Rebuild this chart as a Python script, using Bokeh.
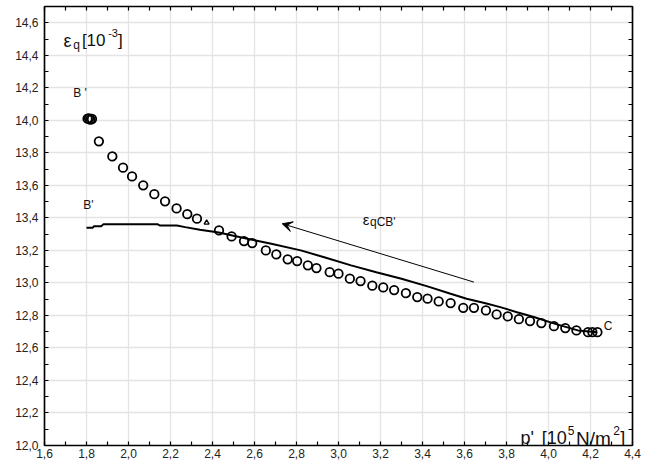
from bokeh.plotting import figure
from bokeh.models import (Range1d, LinearAxis, FixedTicker, CustomJSTickFormatter,
                          Label, Arrow, VeeHead, ColumnDataSource)
from bokeh.embed import file_html
from bokeh.resources import INLINE

# ---------------- data ----------------
x_ticks = [1.6, 1.8, 2.0, 2.2, 2.4, 2.6, 2.8, 3.0, 3.2, 3.4, 3.6, 3.8, 4.0, 4.2, 4.4]
x_minor = [1.7, 1.9, 2.1, 2.3, 2.5, 2.7, 2.9, 3.1, 3.3, 3.5, 3.7, 3.9, 4.1, 4.3]
y_ticks = [12.0, 12.2, 12.4, 12.6, 12.8, 13.0, 13.2, 13.4, 13.6, 13.8, 14.0, 14.2, 14.4, 14.6]
y_minor = [12.1, 12.3, 12.5, 12.7, 12.9, 13.1, 13.3, 13.5, 13.7, 13.9, 14.1, 14.3, 14.5, 14.7]

# measured points (open circles)
p_meas = [1.805, 1.812, 1.818, 1.826, 1.859, 1.923, 1.974, 2.017, 2.070, 2.123, 2.174,
          2.229, 2.280, 2.326, 2.431, 2.491, 2.550, 2.589, 2.654, 2.704, 2.758, 2.803,
          2.854, 2.895, 2.958, 3.000, 3.054, 3.105, 3.161, 3.213, 3.265, 3.321, 3.375,
          3.424, 3.477, 3.534, 3.594, 3.645, 3.702, 3.753, 3.806, 3.859, 3.912, 3.966,
          4.026, 4.080, 4.133, 4.188, 4.209, 4.233]
eq_meas = [14.010, 14.012, 14.005, 14.008, 13.871, 13.778, 13.709, 13.655, 13.600, 13.546,
           13.502, 13.458, 13.423, 13.395, 13.323, 13.286, 13.257, 13.245, 13.200, 13.175,
           13.145, 13.134, 13.108, 13.091, 13.066, 13.057, 13.026, 13.011, 12.983, 12.972,
           12.956, 12.937, 12.913, 12.903, 12.886, 12.876, 12.847, 12.847, 12.831, 12.806,
           12.794, 12.777, 12.765, 12.753, 12.734, 12.722, 12.708, 12.697, 12.697, 12.697]

# single odd point (small triangle)
p_tri = [2.372]
eq_tri = [13.370]

# computed path C -> B' (solid line)
p_line = [1.800, 1.830, 1.835, 1.870, 1.880, 2.140, 2.150, 2.230, 2.270, 2.340, 2.430,
          2.500, 2.600, 2.680, 2.820, 2.940, 3.060, 3.180, 3.300, 3.420, 3.530, 3.610,
          3.700, 3.770, 3.850, 3.930, 4.040, 4.140, 4.230]
eq_line = [13.340, 13.340, 13.348, 13.348, 13.360, 13.360, 13.353, 13.353, 13.343, 13.327,
           13.310, 13.290, 13.262, 13.241, 13.200, 13.155, 13.108, 13.066, 13.026, 12.980,
           12.935, 12.903, 12.875, 12.851, 12.820, 12.790, 12.745, 12.708, 12.697]

FONT = "Liberation Sans"

p = figure(width=670, height=470, output_backend="svg", toolbar_location=None,
           x_range=Range1d(1.6, 4.4), y_range=Range1d(12.0, 14.7),
           min_border_left=44, min_border_right=38, min_border_top=6, min_border_bottom=25,
           background_fill_color="white", border_fill_color="white")
p.outline_line_color = "black"
p.outline_line_width = 1.2

fmt = CustomJSTickFormatter(code="return tick.toFixed(1).replace('.', ',');")
blank = CustomJSTickFormatter(code="return '';")
xt = FixedTicker(ticks=x_ticks, minor_ticks=x_minor)
yt = FixedTicker(ticks=y_ticks, minor_ticks=y_minor)


def style_axis(ax, ticker, show_labels):
    ax.ticker = ticker
    ax.axis_line_color = "black"
    ax.axis_line_width = 1.5
    ax.major_tick_in = 4
    ax.major_tick_out = 0
    ax.minor_tick_in = 4
    ax.minor_tick_out = 0
    ax.major_tick_line_color = "black"
    ax.minor_tick_line_color = "black"
    ax.major_tick_line_width = 1.2
    ax.minor_tick_line_width = 1.2
    if show_labels:
        ax.formatter = fmt
        ax.major_label_text_font = FONT
        ax.major_label_text_font_size = "12px"
        ax.major_label_text_color = "#222222"
    else:
        ax.formatter = blank
        ax.major_label_standoff = 0


style_axis(p.xaxis[0], xt, True)
p.xaxis[0].major_label_standoff = 3
style_axis(p.yaxis[0], yt, True)
p.yaxis[0].major_label_standoff = 6

top_ax = LinearAxis()
right_ax = LinearAxis()
style_axis(top_ax, xt, False)
style_axis(right_ax, yt, False)
p.add_layout(top_ax, "above")
p.add_layout(right_ax, "right")

p.xgrid.ticker = xt
p.ygrid.ticker = yt
p.xgrid.grid_line_color = "#e4e4e4"
p.ygrid.grid_line_color = "#e4e4e4"
p.xgrid.grid_line_width = 1.3
p.ygrid.grid_line_width = 1.3

# line
p.line(p_line, eq_line, line_color="black", line_width=2)

# circles
src = ColumnDataSource(dict(x=p_meas, y=eq_meas))
p.scatter("x", "y", source=src, marker="circle", size=8.5, fill_color=None,
          line_color="black", line_width=1.8)
p.scatter(p_tri, eq_tri, marker="triangle", size=5, fill_color=None,
          line_color="black", line_width=1.3)

# arrow
p.add_layout(Arrow(end=VeeHead(size=10, line_color="black", fill_color="black", line_width=1),
                   x_start=3.645, y_start=13.005, x_end=2.732, y_end=13.364,
                   line_color="black", line_width=1))


def lab(x, y, t, size, **kw):
    p.add_layout(Label(x=x, y=y, text=t, text_font=FONT, text_font_size=size,
                       text_color="#111111", text_baseline="alphabetic", **kw))


# y title
lab(1.690, 14.488, "ε", "18px")
lab(1.737, 14.465, "q", "12px")
lab(1.778, 14.488, "[10", "17px")
lab(1.903, 14.535, "-3", "11px")
lab(1.950, 14.488, "]", "17px")

# x title
lab(3.867, 12.044, "p'", "18px")
lab(3.968, 12.044, "[10", "18px")
lab(4.092, 12.090, "5", "12px")
lab(4.131, 12.044, "N/m", "19px")
lab(4.308, 12.090, "2", "12px")
lab(4.342, 12.044, "]", "18px")

# annotations
lab(3.115, 13.391, "ε", "15px")
lab(3.150, 13.372, "qCB'", "12px")
lab(1.737, 14.166, "B '", "12px")
lab(1.785, 13.477, "B'", "12px")
lab(4.263, 12.732, "C", "12px")

open("out.html", "w").write(file_html(p, INLINE))
